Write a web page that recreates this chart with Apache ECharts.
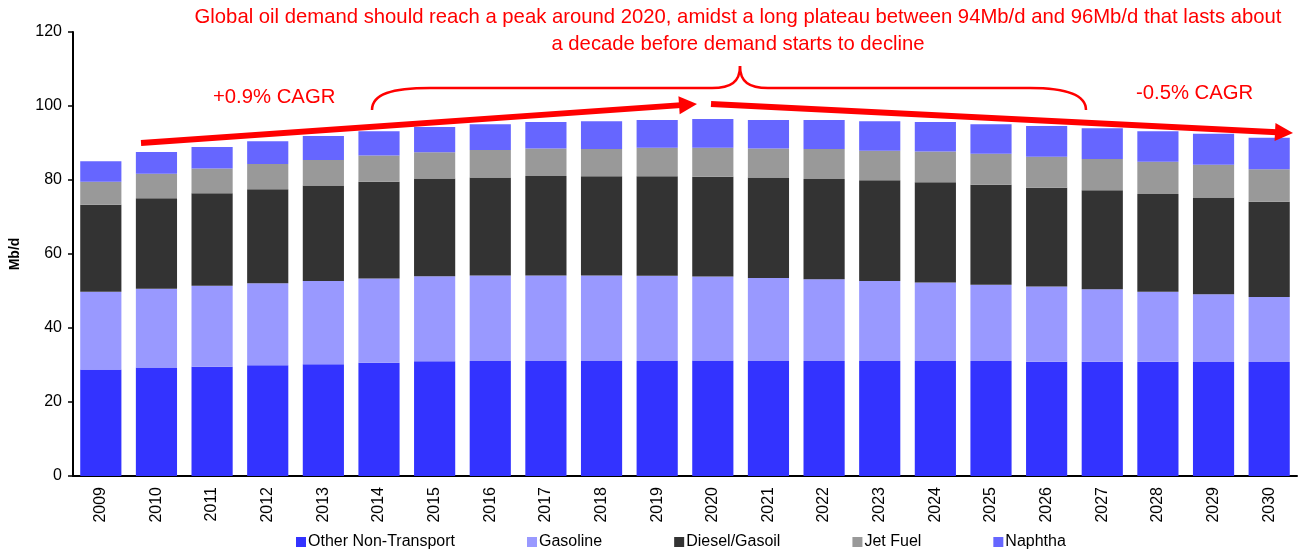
<!DOCTYPE html>
<html>
<head>
    <meta charset="UTF-8">
    <title>Oil demand by product</title>
    <script src="https://cdn.jsdelivr.net/npm/echarts@6.0.0/dist/echarts.min.js"></script>
    <style>
        html, body { margin: 0; padding: 0; background: #fff; }
        #main { width: 1301px; height: 550px; }
    </style>
</head>
<body>
    <div id="main"></div>
    <script>
        // categories
        var years = ['2009', '2010', '2011', '2012', '2013', '2014', '2015', '2016', '2017', '2018', '2019',
                     '2020', '2021', '2022', '2023', '2024', '2025', '2026', '2027', '2028', '2029', '2030'];
        // Mb/d, stacked pieces
        var otherNonTransport = [28.8, 29.3, 29.5, 29.9, 30.2, 30.6, 31.0, 31.1, 31.1, 31.2, 31.1,
                                 31.2, 31.1, 31.1, 31.1, 31.1, 31.1, 30.9, 30.9, 30.9, 30.8, 30.8];
        var gasoline = [21.0, 21.3, 21.9, 22.2, 22.5, 22.8, 23.0, 23.1, 23.1, 23.0, 23.0,
                        22.7, 22.4, 22.1, 21.6, 21.2, 20.6, 20.3, 19.6, 18.9, 18.3, 17.6];
        var dieselGasoil = [23.5, 24.5, 25.0, 25.4, 25.8, 26.1, 26.4, 26.5, 26.9, 26.8, 26.9,
                            27.0, 27.2, 27.1, 27.2, 27.1, 27.0, 26.7, 26.7, 26.4, 26.2, 25.7];
        var jetFuel = [6.2, 6.6, 6.7, 6.8, 6.9, 7.1, 7.1, 7.4, 7.4, 7.4, 7.7,
                       7.8, 7.8, 8.1, 8.0, 8.3, 8.4, 8.4, 8.5, 8.7, 8.8, 8.8];
        var naphtha = [5.6, 5.9, 5.8, 6.2, 6.5, 6.6, 6.8, 7.0, 7.2, 7.5, 7.5,
                       7.8, 7.7, 7.8, 8.0, 8.0, 8.0, 8.3, 8.3, 8.3, 8.4, 8.5];
        var yTicks = { min: 0, max: 120, interval: 20 };

        var FONT = 'Liberation Sans, Arial, sans-serif';
        var RED = '#ff0000';

        var chart = echarts.init(document.getElementById('main'));

        function bar(name, data, color) {
            return {
                name: name,
                type: 'bar',
                stack: 'total',
                barCategoryGap: '26%',
                data: data,
                itemStyle: { color: color },
                emphasis: { disabled: true }
            };
        }

        // arrow: a thick line plus a triangle head
        function arrow(x1, y1, x2, y2) {
            var len = Math.sqrt((x2 - x1) * (x2 - x1) + (y2 - y1) * (y2 - y1));
            var ux = (x2 - x1) / len, uy = (y2 - y1) / len;
            var hl = 18, hw = 9;
            var bx = x2 - ux * hl, by = y2 - uy * hl;
            return [
                {
                    type: 'line',
                    shape: { x1: x1, y1: y1, x2: bx + ux * 2, y2: by + uy * 2 },
                    style: { stroke: RED, lineWidth: 6 },
                    z: 100
                },
                {
                    type: 'polygon',
                    shape: { points: [[x2, y2], [bx - uy * hw, by + ux * hw], [bx + uy * hw, by - ux * hw]] },
                    style: { fill: RED },
                    z: 100
                }
            ];
        }

        function curve(x1, y1, c1x, c1y, c2x, c2y, x2, y2) {
            return {
                type: 'bezierCurve', z: 100,
                shape: { x1: x1, y1: y1, cpx1: c1x, cpy1: c1y, cpx2: c2x, cpy2: c2y, x2: x2, y2: y2 },
                style: { stroke: RED, lineWidth: 2.5, fill: null }
            };
        }
        function seg(x1, y1, x2, y2) {
            return {
                type: 'line', z: 100,
                shape: { x1: x1, y1: y1, x2: x2, y2: y2 },
                style: { stroke: RED, lineWidth: 2.5 }
            };
        }

        // curly brace over the plateau
        var brace = [
            curve(372, 110, 372, 94, 392, 88, 430, 88),
            seg(430, 88, 712, 88),
            curve(712, 88, 731, 88, 740, 82, 740, 66),
            curve(740, 66, 740, 82, 749, 88, 768, 88),
            seg(768, 88, 1030, 88),
            curve(1030, 88, 1068, 88, 1086, 96, 1086, 110)
        ];

        var graphics = [
            {
                type: 'text', x: 738, y: 4, z: 100,
                style: {
                    text: 'Global oil demand should reach a peak around 2020, amidst a long plateau between 94Mb/d and 96Mb/d that lasts about\na decade before demand starts to decline',
                    fill: RED, font: '20.3px ' + FONT, align: 'center', lineHeight: 27
                }
            },
            {
                type: 'text', x: 213, y: 87, z: 100,
                style: { text: '+0.9% CAGR', fill: RED, font: '20.3px ' + FONT }
            },
            {
                type: 'text', x: 1136, y: 83, z: 100,
                style: { text: '-0.5% CAGR', fill: RED, font: '20.3px ' + FONT }
            }
        ].concat(brace).concat(arrow(141, 143, 697, 104)).concat(arrow(711, 104, 1293, 133));

        var option = {
            animation: false,
            textStyle: { fontFamily: FONT },
            grid: { left: 73, right: 4, top: 32, bottom: 74 },
            legend: {
                top: 529,
                left: 291,
                itemWidth: 10,
                itemHeight: 10,
                itemGap: 72,
                icon: 'rect',
                textStyle: { fontSize: 16, color: '#000', fontFamily: FONT, padding: [0, 0, 0, -3] },
                data: ['Other Non-Transport', 'Gasoline', 'Diesel/Gasoil', 'Jet Fuel', 'Naphtha']
            },
            xAxis: {
                type: 'category',
                data: years,
                axisLine: { lineStyle: { color: '#000', width: 2 } },
                axisTick: { lineStyle: { color: '#000', width: 1.5 }, length: 5 },
                axisLabel: { rotate: 90, color: '#000', fontSize: 16, fontFamily: FONT, margin: 11 }
            },
            yAxis: {
                type: 'value',
                min: yTicks.min,
                max: yTicks.max,
                interval: yTicks.interval,
                name: 'Mb/d',
                nameLocation: 'middle',
                nameRotate: 90,
                nameGap: 51,
                nameTextStyle: { color: '#000', fontWeight: 'bold', fontSize: 14, fontFamily: FONT },
                splitLine: { show: false },
                axisLine: { show: true, lineStyle: { color: '#000', width: 2 } },
                axisTick: { show: true, lineStyle: { color: '#000', width: 1.5 }, length: 5 },
                axisLabel: { color: '#000', fontSize: 16, fontFamily: FONT, margin: 11 }
            },
            series: [
                bar('Other Non-Transport', otherNonTransport, '#3333ff'),
                bar('Gasoline', gasoline, '#9999ff'),
                bar('Diesel/Gasoil', dieselGasoil, '#333333'),
                bar('Jet Fuel', jetFuel, '#999999'),
                bar('Naphtha', naphtha, '#6666ff')
            ],
            graphic: graphics
        };
        chart.setOption(option);
    </script>
</body>
</html>
